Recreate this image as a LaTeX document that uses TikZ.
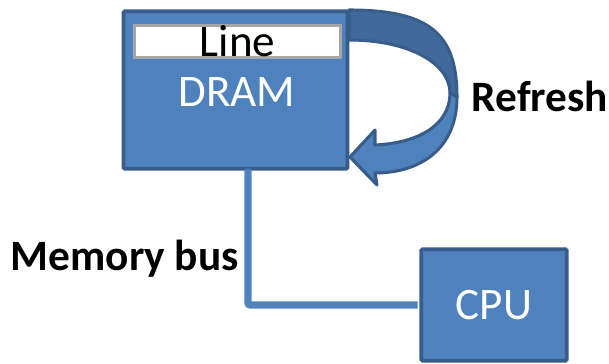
\documentclass[tikz,border=0pt]{standalone}
\usepackage{fontspec}
\setmainfont{Carlito}
\definecolor{boxblue}{HTML}{4F81BD}
\definecolor{edgeblue}{HTML}{385D8A}
\definecolor{backblue}{HTML}{41699B}
\definecolor{linegray}{HTML}{A6A6A6}
\tikzset{
  unit/.style={draw=edgeblue, line width=3.2pt, fill=boxblue, text=white, rounded corners=1pt},
  cacheline/.style={draw=linegray, line width=2.6pt, fill=white, minimum width=6.2cm, minimum height=0.98cm, inner sep=0pt},
  bus/.style={draw=boxblue, line width=6.2pt, rounded corners=2pt},
  big/.style={font=\fontsize{38.5}{40}\selectfont},
  tag/.style={font=\fontsize{37}{38}\selectfont\bfseries}
}
\begin{document}
\begin{tikzpicture}[x=0.03cm,y=0.03cm]
\useasboundingbox (0,0) rectangle (609,364);

\node[unit, minimum width=6.72cm, minimum height=4.72cm] (dram) at (235.5,274) {};
\node[cacheline, big, text=black] (line) at (237.5,322.5) {Line};
\node[big, text=white] (dramlabel) at (237,272) {DRAM};

\node[unit, big, minimum width=4.36cm, minimum height=3.34cm] (cpu) at (494,59) {CPU};

% memory bus
\coordinate (busstart) at ([xshift=0.375cm]dram.south);
\draw[bus] ([yshift=1.6pt]busstart) |- ([xshift=-1.6pt]cpu.west);
\node[tag, anchor=east] (buslabel) at (243,105) {Memory bus};

% refresh arrow
\fill[backblue, draw=edgeblue, line width=2.6pt, line join=round]
  (349,354) .. controls (430,354) and (457,330) .. (457,267)
  -- (450,271) .. controls (450,300) and (410,324) .. (349,324) -- cycle;
\fill[boxblue, draw=edgeblue, line width=2.6pt, line join=round]
  (457,267) .. controls (457,215) and (420,191) .. (375,191)
  -- (377,179) -- (350,207) -- (375,234) -- (375,219)
  .. controls (420,221) and (450,240) .. (450,271) -- cycle;
\node[tag] (refresh) at (540,268) {Refresh};
\end{tikzpicture}
\end{document}
